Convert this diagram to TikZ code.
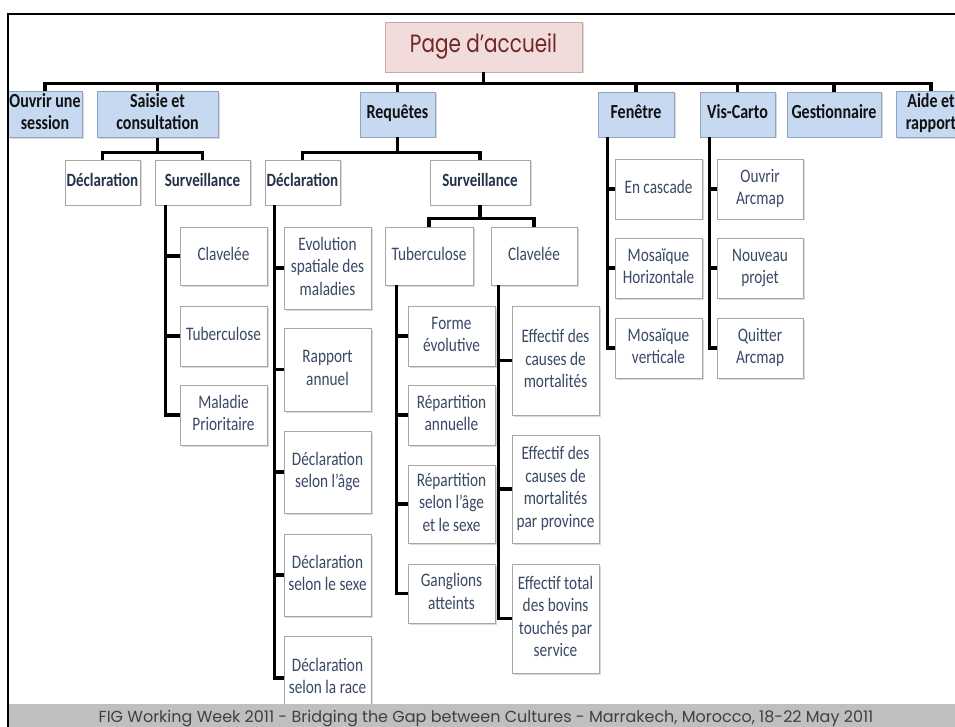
\documentclass[tikz,border=0pt]{standalone}
\usepackage{graphicx}
\usepackage{fontspec}
\setmainfont{Carlito}
\newfontfamily\gothique{Poppins}
\usetikzlibrary{shadows}

\definecolor{bleu}{HTML}{C6D9F1}
\definecolor{bleubord}{HTML}{8EA4C2}
\definecolor{rose}{HTML}{F2DCDB}
\definecolor{rosebord}{HTML}{C9A9A8}
\definecolor{brun}{HTML}{6E2828}
\definecolor{grisbord}{HTML}{A6A6A6}
\definecolor{noir}{HTML}{111111}
\definecolor{ardoise}{HTML}{22324D}
\definecolor{ardoiseclair}{HTML}{3A4965}
\definecolor{grisbande}{HTML}{BFBFBF}
\definecolor{grisfonce}{HTML}{404040}

\begin{document}
\begin{tikzpicture}[x=1pt,y=-1pt,
	lien/.style={line width=3.2pt},
	cadre/.style={draw=grisbord,fill=white,line width=0.8pt,align=center,inner sep=1pt,
		drop shadow={shadow xshift=1.5pt,shadow yshift=-1.5pt,opacity=0.3}},
	niveauun/.style={cadre,fill=bleu,draw=bleubord,font=\bfseries\fontsize{16}{17.5}\selectfont,text=noir},
	niveaudeux/.style={cadre,font=\bfseries\fontsize{15}{17}\selectfont,text=ardoise},
	feuille/.style={cadre,font=\fontsize{15.3}{18}\selectfont,text=ardoiseclair},
	racine/.style={cadre,fill=rose,draw=rosebord,font=\gothique\fontsize{20}{22}\selectfont,text=brun}]

\useasboundingbox (0,0) rectangle (955,727);

\def\boite#1#2#3#4#5#6#7{
	\node[#2,minimum width={(#5-#3)*1pt},minimum height={(#6-#4)*1pt}] (#1) at ({(#3+#5)/2},{(#4+#6)/2})
		{\raisebox{-2pt}{\scalebox{1}[1.25]{\begin{tabular}{@{}c@{}}#7\end{tabular}}}};
}

\def\branche#1#2#3{
	\draw[lien] ([xshift=#2pt]#1.south west) |- (#3.west);
}

\begin{scope}
	\clip (9,15) rectangle (955,704);

	\boite{page}{racine}{385}{22}{582}{72}{Page d’accueil}

	\boite{ouvrir}{niveauun}{8}{92}{82}{137}{Ouvrir une\\session}
	\boite{saisie}{niveauun}{97}{92}{218}{137}{Saisie et\\consultation}
	\boite{requetes}{niveauun}{360}{92}{435}{137}{Requêtes}
	\boite{fenetre}{niveauun}{598}{92}{674}{137}{Fenêtre}
	\boite{viscarto}{niveauun}{700}{92}{775}{137}{Vis-Carto}
	\boite{gestion}{niveauun}{787}{92}{881}{137}{Gestionnaire}
	\boite{aide}{niveauun}{896}{92}{966}{137}{Aide et\\rapport}

	\boite{declS}{niveaudeux}{65}{160}{140}{205}{Déclaration}
	\boite{survS}{niveaudeux}{155}{160}{250}{205}{Surveillance}
	\boite{declR}{niveaudeux}{265}{160}{340}{205}{Déclaration}
	\boite{survR}{niveaudeux}{430}{160}{530}{205}{Surveillance}

	\boite{clavS}{feuille}{180}{227}{267}{285}{Clavelée}
	\boite{tubS}{feuille}{180}{306}{267}{366}{Tuberculose}
	\boite{malS}{feuille}{180}{385}{267}{445}{Maladie\\Prioritaire}

	\boite{evol}{feuille}{284}{227}{371}{309}{Evolution\\spatiale des\\maladies}
	\boite{rapport}{feuille}{284}{328}{371}{411}{Rapport\\annuel}
	\boite{dage}{feuille}{284}{431}{371}{513}{Déclaration\\selon l’âge}
	\boite{dsexe}{feuille}{284}{534}{371}{616}{Déclaration\\selon le sexe}
	\boite{drace}{feuille}{284}{636}{371}{720}{Déclaration\\selon la race}

	\boite{tubR}{feuille}{385}{227}{473}{285}{Tuberculose}
	\boite{clavR}{feuille}{491}{227}{577}{285}{Clavelée}

	\boite{forme}{feuille}{408}{306}{495}{366}{Forme\\évolutive}
	\boite{repann}{feuille}{408}{385}{495}{445}{Répartition\\annuelle}
	\boite{repage}{feuille}{408}{465}{495}{543}{Répartition\\selon l’âge\\et le sexe}
	\boite{gangl}{feuille}{408}{564}{495}{623}{Ganglions\\atteints}

	\boite{effmort}{feuille}{512}{306}{599}{415}{Effectif des\\causes de\\mortalités}
	\boite{effprov}{feuille}{512}{435}{599}{543}{Effectif des\\causes de\\mortalités\\par province}
	\boite{efftotal}{feuille}{512}{564}{599}{673}{Effectif total\\des bovins\\touchés par\\service}

	\boite{cascade}{feuille}{615}{159}{702}{219}{En cascade}
	\boite{mosh}{feuille}{615}{238}{702}{298}{Mosaïque\\Horizontale}
	\boite{mosv}{feuille}{615}{318}{702}{378}{Mosaïque\\verticale}

	\boite{ouvrarc}{feuille}{717}{159}{803}{219}{Ouvrir\\Arcmap}
	\boite{nouveau}{feuille}{717}{238}{803}{298}{Nouveau\\projet}
	\boite{quitter}{feuille}{717}{318}{803}{378}{Quitter\\Arcmap}

	\foreach \k in {ouvrir,saisie,requetes,fenetre,viscarto,gestion,aide}
		\draw[lien] (page.south) -- ++(0,11) -| (\k.north);
	\foreach \k in {declS,survS}
		\draw[lien] (saisie.south) -- ++(0,15) -| (\k.north);
	\foreach \k in {declR,survR}
		\draw[lien] (requetes.south) -- ++(0,15) -| (\k.north);
	\foreach \k in {tubR,clavR}
		\draw[lien] (survR.south) -- ++(0,13) -| (\k.north);

	\foreach \k in {clavS,tubS,malS}{
		\branche{survS}{11}{\k}
	}
	\foreach \k in {evol,rapport,dage,dsexe,drace}{
		\branche{declR}{10}{\k}
	}
	\foreach \k in {forme,repann,repage,gangl}{
		\branche{tubR}{12}{\k}
	}
	\foreach \k in {effmort,effprov,efftotal}{
		\branche{clavR}{8}{\k}
	}
	\foreach \k in {cascade,mosh,mosv}{
		\branche{fenetre}{10}{\k}
	}
	\foreach \k in {ouvrarc,nouveau,quitter}{
		\branche{viscarto}{10}{\k}
	}
\end{scope}

\fill[grisbande] (9,704) rectangle (955,727);
\node[font=\gothique\fontsize{16}{16}\selectfont,text=grisfonce,anchor=base,inner sep=0pt] (pied) at (486,722)
	{FIG Working Week 2011 - Bridging the Gap between Cultures - Marrakech, Morocco, 18-22 May 2011};
\draw[line width=2.2pt] (8,727) -- (8,14) -- (955,14);

\end{tikzpicture}
\end{document}
